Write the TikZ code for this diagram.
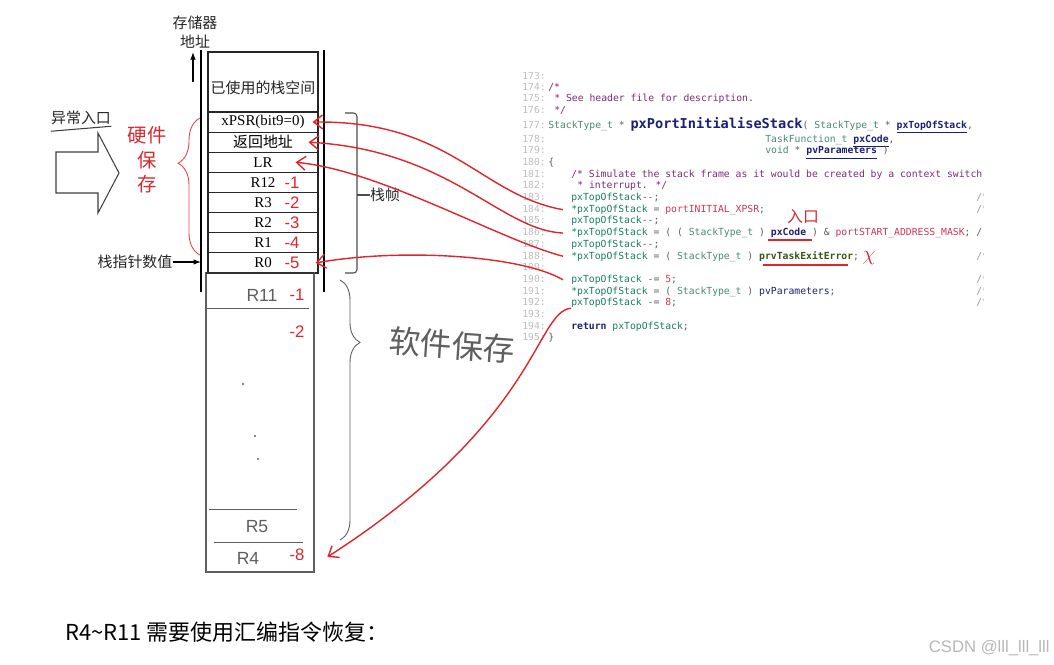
\documentclass[tikz,border=0pt]{standalone}
\usepackage{fontspec}
\setmainfont{Liberation Serif}
\newfontfamily\cjk{Noto Sans CJK SC}
\newfontfamily\codefont{DejaVu Sans Mono}
\newfontfamily\hwfont{Liberation Sans}
\usetikzlibrary{arrows.meta,positioning,calc,decorations.pathreplacing}

\definecolor{hand}{RGB}{222,38,44}
\definecolor{pencil}{RGB}{95,95,95}
\definecolor{ccmt}{RGB}{125,45,120}
\definecolor{ctyp}{RGB}{72,140,112}
\definecolor{cid}{RGB}{22,128,96}
\definecolor{cmac}{RGB}{205,55,85}
\definecolor{cfun}{RGB}{28,32,115}
\definecolor{cprv}{RGB}{52,86,22}
\definecolor{cop}{RGB}{95,95,95}
\definecolor{lnum}{RGB}{190,190,190}

\newcommand\kTy[1]{\textcolor{ctyp}{#1}}
\newcommand\kId[1]{\textcolor{cid}{#1}}
\newcommand\kMac[1]{\textcolor{cmac}{#1}}
\newcommand\kCmt[1]{\textcolor{ccmt}{#1}}
\newcommand\kPar[1]{\textcolor{cfun}{\bfseries\underline{#1}}}
\newcommand\kFn[1]{\textcolor{cfun}{\fontsize{7.75}{8}\selectfont\bfseries #1}}
\newcommand\kPrv[1]{\textcolor{cprv}{\bfseries #1}}

\tikzset{
  cell/.style={draw=black!85,line width=.6pt,minimum width=2.2cm,minimum height=.402cm,
               inner sep=0pt,font=\fontsize{8.5}{9}\selectfont},
  zh/.style={font=\cjk\fontsize{8.5}{9}\selectfont,inner sep=0pt,text=black!85},
  lno/.style={font=\codefont\fontsize{5.5}{6}\selectfont,text=lnum,anchor=mid east,inner sep=0pt},
  code/.style={font=\codefont\fontsize{5.55}{6}\selectfont,anchor=mid west,inner sep=0pt,text=cop},
  hnum/.style={font=\hwfont\fontsize{9.5}{10}\selectfont,text=hand,inner sep=0pt},
  hlbl/.style={font=\hwfont\fontsize{10}{10}\selectfont,text=pencil,inner sep=0pt},
  har/.style={draw=hand,line width=.8pt,-{Straight Barb[length=1.8mm,width=2.8mm]}},
  blk/.style={line width=.6pt,-{Latex[length=1.5mm,width=1.1mm]}},
}

\begin{document}
\begin{tikzpicture}[x=0.02cm,y=-0.02cm]
  \fill[white] (0,0) rectangle (1054,664);
  \useasboundingbox (0,0) rectangle (1054,664);
  % left: exception entry and stack pointer
  \node[zh] (exc) at (81,118) {异常入口};
  \draw[black!75,line width=.6pt] ([yshift=-.12cm]exc.south west) -- ([yshift=-.02cm]exc.south east);
  \draw[black!75,line width=.6pt] (56,152) -- (98,152) -- (98,133) -- (119,173)
        -- (98,213) -- (98,193) -- (56,193) -- cycle;
  \node[zh,text=hand,align=center,font=\cjk\fontsize{11}{14}\selectfont] (hw) at (147,160) {硬件\\保\\存};
  \draw[hand!85,line width=.5pt,decorate,decoration={brace,amplitude=.44cm,aspect=.67}] (200,255) -- (200,118);
  \node[zh] (sp) at (135,262) {栈指针数值};
  % memory column
  \coordinate (colL) at (201,50);
  \coordinate (colR) at (324,50);
  \draw[line width=.6pt] (colL) -- (201,292);
  \draw[line width=.6pt] (colR) -- (324,292);
  \node[zh,align=center,font=\cjk\fontsize{8.5}{10.8}\selectfont] (memaddr) at (195,32) {存储器\\地址};
  \coordinate (upst) at (193,82);
  \draw[blk,shorten >=2pt] (upst) -- (upst |- memaddr.south);
  \draw[blk] (sp.east) -- (sp.east -| colL);
  \node[cell,minimum height=1.2cm] (used) at (263,82) {};
  \node[zh] (usedtxt) at ([yshift=-.12cm]used.center) {已使用的栈空间};
  \foreach \lab [count=\i] in {xPSR(bit9=0),{\cjk 返回地址},LR,R12,R3,R2,R1,R0}{
    \pgfmathsetmacro{\yy}{112+20.125*(\i-0.5)}
    \node[cell] (row\i) at (263,\yy) {\lab};
  }
  \foreach \i/\m in {4/1,5/2,6/3,7/4,8/5}
    \node[hnum] (m\m) at ([xshift=.58cm]row\i.center) {-\m};
  % hand drawn part below R0
  \draw[pencil,line width=.6pt] (206,273) rectangle (314,572);
  \draw[black!80,line width=1pt] (206,273) -- (314,273);
  \draw[pencil,line width=.5pt] (206,308) -- (309,308);
  \draw[pencil,line width=.5pt] (209,509) -- (297,509);
  \draw[pencil,line width=.5pt] (214,542) -- (303,542);
  \node[hlbl] (r11) at (262,295) {R11};
  \node[hnum] (s1) at (297,295) {-1};
  \node[hnum] (s2) at (297,332) {-2};
  \foreach \px/\py in {243/384,255/436,258/459}
    \fill[pencil] (\px,\py) circle (.6pt);
  \node[hlbl] (r5) at (257,527) {R5};
  \node[hlbl] (r4) at (248,558) {R4};
  \node[hnum] (s8) at (297,555) {-8};
  \node[minimum width=2.16cm,minimum height=.6cm,inner sep=0pt] (r4cell) at (260,557) {};
  % stack frame bracket and software brace
  \draw[black!70,line width=.6pt,rounded corners=2pt] (345,113) -| (357,273) -- (345,273);
  \node[zh] (frame) at (385,195) {栈帧};
  \draw[black!70,line width=.6pt] (357,195) -- (frame.west);
  \draw[pencil,line width=.5pt,decorate,decoration={brace,amplitude=.4cm,aspect=.24}] (340,280) -- (340,540);
  \node[zh,text=pencil,font=\cjk\fontsize{18}{18}\selectfont,rotate=-4] (soft) at (452,345) {软件保存};

  % right: port.c listing
  \foreach \n in {173,...,195}{
    \pgfmathsetmacro{\yy}{\n<177 ? 75+11.4*(\n-173) : (\n==177 ? 124 : 138+11.7*(\n-178))}
    \node[lno] (n\n) at (546,\yy) {\n:};
  }
  \begin{scope}
    \clip (515,60) rectangle (983,350);
    \node[code] (c174) at (548,0 |- n174.mid) {\kCmt{/*}};
    \node[code] (c175) at (554,0 |- n175.mid) {\kCmt{* See header file for description.}};
    \node[code] (c176) at (554,0 |- n176.mid) {\kCmt{*/}};
    \node[code] (c177) at (548,0 |- n177.mid) {\kTy{StackType\_t} * \kFn{pxPortInitialiseStack}( \kTy{StackType\_t} * \kPar{pxTopOfStack},};
    \node[code] (c178) at (765,0 |- n178.mid) {\kTy{TaskFunction\_t} \kPar{pxCode},};
    \node[code] (c179) at (765,0 |- n179.mid) {\kTy{void} * \kPar{pvParameters} )};
    \node[code] (c180) at (548,0 |- n180.mid) {\{};
    \node[code] (c181) at (571,0 |- n181.mid) {\kCmt{/* Simulate the stack frame as it would be created by a context switch}};
    \node[code] (c182) at (577,0 |- n182.mid) {\kCmt{* interrupt. */}};
    \node[code] (c183) at (571,0 |- n183.mid) {\kId{pxTopOfStack}-{}-;};
    \node[code] (c184) at (571,0 |- n184.mid) {\kId{*pxTopOfStack} = \kMac{portINITIAL\_XPSR};};
    \node[code] (c185) at (571,0 |- n185.mid) {\kId{pxTopOfStack}-{}-;};
    \node[code] (c186) at (571,0 |- n186.mid) {\kId{*pxTopOfStack} = ( ( \kTy{StackType\_t} ) \textcolor{cfun}{\bfseries pxCode} ) \& \kMac{portSTART\_ADDRESS\_MASK}; /};
    \node[code] (c187) at (571,0 |- n187.mid) {\kId{pxTopOfStack}-{}-;};
    \node[code] (c188) at (571,0 |- n188.mid) {\kId{*pxTopOfStack} = ( \kTy{StackType\_t} ) \kPrv{prvTaskExitError};};
    \node[code] (c190) at (571,0 |- n190.mid) {\kId{pxTopOfStack} -= \kMac{5};};
    \node[code] (c191) at (571,0 |- n191.mid) {\kId{*pxTopOfStack} = ( \kTy{StackType\_t} ) \textcolor{cfun}{pvParameters};};
    \node[code] (c192) at (571,0 |- n192.mid) {\kId{pxTopOfStack} -= \kMac{8};};
    \node[code] (c194) at (571,0 |- n194.mid) {\textcolor{cfun}{\bfseries return} \kId{pxTopOfStack};};
    \node[code] (c195) at (548,0 |- n195.mid) {\}};
    \foreach \n in {183,184,188,190,191,192}
      \node[code,text=black!40] (e\n) at (976,0 |- n\n.mid) {/*};
  \end{scope}
  % red notes on the listing
  \node[zh,text=hand,font=\cjk\fontsize{9}{9}\selectfont] (entry) at (803,217) {入口};
  \draw[hand,line width=.7pt] (768,240) -- (812,240);
  \draw[hand,line width=.7pt] (763,265) -- (848,265);
  \node[hnum,font=\fontsize{12}{12}\selectfont] (xmark) at (869,258) {$\chi$};
  \draw[har] ([xshift=-.16cm]c184.west) .. controls (480,195) and (450,120) .. ([xshift=-.12cm]row1.east);
  \draw[har] ([xshift=-.16cm]c186.west) .. controls (500,230) and (450,150) .. ([xshift=-.2cm]row2.east);
  \draw[har] ([xshift=-.16cm]c188.west) .. controls (500,240) and (380,170) .. ([xshift=-.46cm]row3.east);
  \draw[har] ([xshift=-.16cm]c190.west) .. controls (520,255) and (400,248) .. ([xshift=-.06cm]row8.east);
  \draw[har] (c192.south west) .. controls (535,312) and (540,420) .. ([xshift=.26cm]r4cell.east);

  % bottom line and watermark
  \node[font=\cjk\fontsize{12.5}{13}\selectfont,anchor=west,inner sep=0pt] (note) at (65,632) {R4\textasciitilde R11 需要使用汇编指令恢复：};
  \node[font=\hwfont\fontsize{9.5}{10}\selectfont,text=black!28,anchor=east,inner sep=0pt] (wm) at (1050,648) {CSDN @lll\_lll\_lll};
\end{tikzpicture}
\end{document}
